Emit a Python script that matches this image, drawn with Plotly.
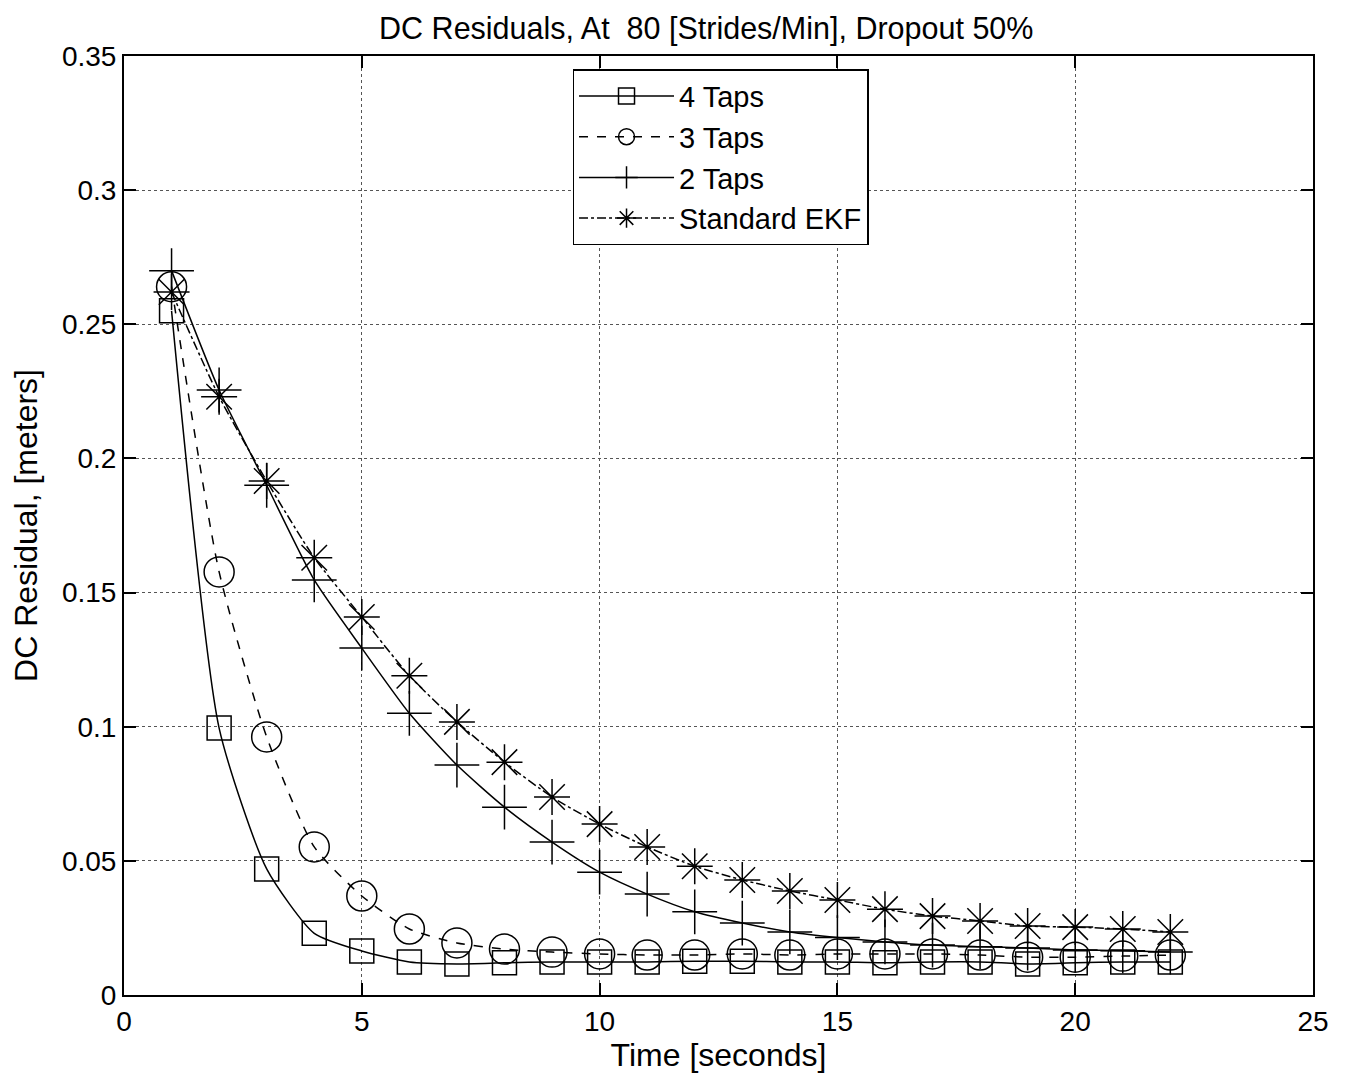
import plotly.graph_objects as go

time_s = list(range(1, 23))

taps4 = [0.255, 0.0995, 0.047, 0.023, 0.0164, 0.0123, 0.0116, 0.012, 0.0123, 0.0123,
         0.0123, 0.0126, 0.0126, 0.0123, 0.0123, 0.012, 0.0123, 0.0123, 0.0116, 0.012,
         0.0123, 0.0123]
taps3 = [0.264, 0.1577, 0.0962, 0.0552, 0.0369, 0.0246, 0.0194, 0.0171, 0.016, 0.0153,
         0.0149, 0.0149, 0.0153, 0.0149, 0.0153, 0.0153, 0.0153, 0.0149, 0.0141, 0.0141,
         0.0145, 0.0149]
taps2 = [0.270, 0.2255, 0.190, 0.1547, 0.1293, 0.105, 0.0857, 0.070, 0.057, 0.0458,
         0.0376, 0.031, 0.0268, 0.0235, 0.0214, 0.0198, 0.0186, 0.018, 0.0175, 0.0168,
         0.0165, 0.016]
ekf = [0.262, 0.223, 0.1916, 0.163, 0.1409, 0.119, 0.1018, 0.0868, 0.0738, 0.0637,
       0.0552, 0.048, 0.0429, 0.0388, 0.0354, 0.032, 0.0294, 0.0276, 0.0257, 0.0253,
       0.0246, 0.0235]

y_ticks = [0, 0.05, 0.1, 0.15, 0.2, 0.25, 0.3, 0.35]
y_tick_labels = ["0", "0.05", "0.1", "0.15", "0.2", "0.25", "0.3", "0.35"]
x_ticks = [0, 5, 10, 15, 20, 25]

series = [
    ("4 Taps", taps4, "square-open", "solid", 24),
    ("3 Taps", taps3, "circle-open", "dash", 30),
    ("2 Taps", taps2, "cross-thin-open", "solid", 32),
    ("Standard EKF", ekf, "asterisk-open", "dashdot", 30),
]

fig = go.Figure()
for name, ys, sym, dash, size in series:
    fig.add_trace(go.Scatter(
        x=time_s, y=ys, name=name, mode="lines+markers",
        line=dict(color="black", width=1.5, dash=dash, shape="spline", smoothing=0.6),
        marker=dict(symbol=sym, size=size, color="black",
                    line=dict(color="black", width=1.5)),
    ))

font_family = "Liberation Sans, Arial, sans-serif"
fig.update_layout(
    width=1348, height=1078,
    margin=dict(l=116, r=43, t=48, b=91),
    plot_bgcolor="white", paper_bgcolor="white",
    font=dict(family=font_family, color="black", size=28),
    title=dict(text="DC Residuals, At &nbsp;80 [Strides/Min], Dropout 50%",
               x=0.518, xanchor="center", y=0.981, yanchor="middle",
               font=dict(size=30.5)),
    legend=dict(x=0.5017, y=0.986, xanchor="center", yanchor="top",
                bgcolor="white", bordercolor="black", borderwidth=1.5,
                font=dict(size=29), tracegroupgap=0, itemwidth=95),
    showlegend=True,
)
axis_common = dict(
    showline=True, linecolor="black", linewidth=2, mirror="ticks",
    ticks="inside", ticklen=12, tickwidth=1.5, tickcolor="black",
    showgrid=True, gridcolor="#555", gridwidth=1, griddash="dot",
    zeroline=False, tickfont=dict(size=28), automargin=False,
)
fig.update_xaxes(range=[0, 25], tickvals=x_ticks,
                 title=dict(text="Time [seconds]", standoff=6, font=dict(size=32)),
                 **axis_common)
fig.update_yaxes(range=[0, 0.35], tickvals=y_ticks, ticktext=y_tick_labels,
                 title=dict(text="DC Residual, [meters]", standoff=18, font=dict(size=32)),
                 **axis_common)

fig.write_html("out.html")
